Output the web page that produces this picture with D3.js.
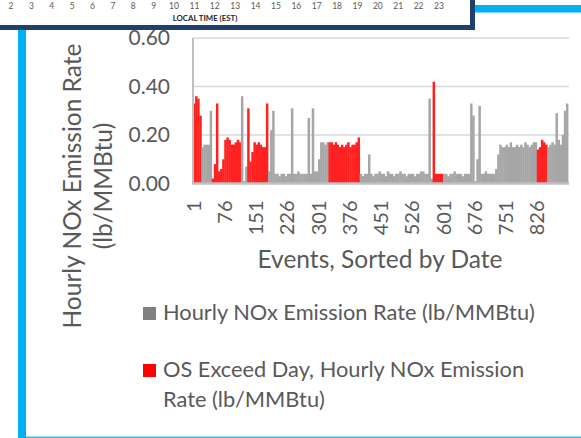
<!DOCTYPE html>
<meta charset="utf-8">
<style>
body { margin: 0; background: #fff; }
svg { display: block; font-family: Lato, "Open Sans", sans-serif; }
.tick line { display: none; }
</style>
<body>
<svg width="581" height="438"></svg>
</body>
<script src="https://cdn.jsdelivr.net/npm/d3@7"></script>
<script>

// each value covers 5 events (events 1-900)
var binSize = 5;
var rate = [
  0.33,0.36,0.35,0.28,0.15,0.16,0.16,0.16,0.30,0.02,
  0.08,0.33,0.05,0.06,0.10,0.18,0.19,0.18,0.16,0.16,
  0.17,0.18,0.17,0.36,0.01,0.07,0.31,0.09,0.13,0.17,
  0.16,0.17,0.16,0.15,0.15,0.33,0.05,0.22,0.30,0.04,
  0.04,0.03,0.04,0.04,0.03,0.04,0.04,0.31,0.04,0.04,
  0.05,0.04,0.04,0.04,0.04,0.27,0.04,0.31,0.05,0.05,
  0.10,0.17,0.17,0.16,0.17,0.17,0.17,0.16,0.17,0.16,
  0.15,0.16,0.15,0.16,0.17,0.15,0.16,0.16,0.17,0.19,
  0.04,0.03,0.04,0.04,0.12,0.04,0.03,0.04,0.04,0.05,
  0.04,0.04,0.03,0.05,0.04,0.04,0.03,0.04,0.04,0.05,
  0.04,0.04,0.03,0.04,0.04,0.04,0.03,0.04,0.04,0.05,
  0.05,0.04,0.04,0.35,0.02,0.42,0.04,0.04,0.04,0.04,
  0.04,0.04,0.03,0.04,0.04,0.05,0.04,0.04,0.04,0.03,
  0.04,0.04,0.04,0.33,0.28,0.01,0.10,0.32,0.04,0.04,
  0.05,0.04,0.04,0.04,0.04,0.06,0.12,0.16,0.15,0.15,
  0.16,0.15,0.17,0.15,0.15,0.16,0.15,0.16,0.15,0.17,
  0.16,0.15,0.16,0.17,0.17,0.14,0.15,0.18,0.17,0.16,
  0.15,0.16,0.17,0.16,0.29,0.18,0.16,0.20,0.30,0.33
];
// 1 = OS exceed day (red), 0 = other days
var exceed = [
  1,1,1,1,0,0,0,0,0,1,
  1,1,1,1,1,1,1,1,1,1,
  1,1,1,0,0,0,1,1,1,1,
  1,1,1,1,1,1,0,0,0,0,
  0,0,0,0,0,0,0,0,0,0,
  0,0,0,0,0,0,0,0,0,0,
  0,0,0,0,0,1,1,1,1,1,
  1,1,1,1,1,1,1,1,1,1,
  0,0,0,0,0,0,0,0,0,0,
  0,0,0,0,0,0,0,0,0,0,
  0,0,0,0,0,0,0,0,0,0,
  0,0,0,0,0,1,1,1,1,1,
  0,0,0,0,0,0,0,0,0,0,
  0,0,0,0,0,0,0,0,0,0,
  0,0,0,0,0,0,0,0,0,0,
  0,0,0,0,0,0,0,0,0,0,
  0,0,0,0,0,1,1,1,1,1,
  0,0,0,0,0,0,0,0,0,0
];
var eventTicks = [1,76,151,226,301,376,451,526,601,676,751,826];
var yTicks = [0, 0.2, 0.4, 0.6];
var hours = [2,3,4,5,6,7,8,9,10,11,12,13,14,15,16,17,18,19,20,21,22,23];
var legendItems = [
  {color: "#808080", lines: ["Hourly NOx Emission Rate (lb/MMBtu)"]},
  {color: "#ff0000", lines: ["OS Exceed Day, Hourly NOx Emission", "Rate (lb/MMBtu)"]}
];

var svg = d3.select("svg");
var textColor = "#595959";

// ---- slide decoration: bottom of the chart above, cyan frame ----
svg.append("rect").attr("x", 470).attr("y", 0).attr("width", 5).attr("height", 30).attr("fill", "#1f3f6f");
svg.append("rect").attr("x", 0).attr("y", 25).attr("width", 475).attr("height", 5).attr("fill", "#1f3f6f");
svg.append("rect").attr("x", 475).attr("y", 5).attr("width", 106).attr("height", 7.5).attr("fill", "#00b0f0");
svg.append("rect").attr("x", 18).attr("y", 30).attr("width", 8).attr("height", 408).attr("fill", "#00b0f0");
svg.append("rect").attr("x", 26).attr("y", 436.5).attr("width", 555).attr("height", 1.5).attr("fill", "#45b5e0");

var hx = d3.scaleLinear().domain([2, 23]).range([11, 439]);
svg.append("g").selectAll("text")
  .data(hours)
  .enter().append("text")
    .attr("x", function(d) { return hx(d); })
    .attr("y", 8.5)
    .attr("text-anchor", "middle")
    .attr("font-size", 8.5)
    .attr("fill", textColor)
    .text(function(d) { return d; });

svg.append("text")
    .attr("x", 205).attr("y", 20.5)
    .attr("text-anchor", "middle")
    .attr("font-size", 7.8)
    .attr("font-weight", "bold")
    .attr("fill", "#262626")
    .text("LOCAL TIME (EST)");

// ---- chart ----
var nEvents = rate.length * binSize;
var x = d3.scaleLinear().domain([0.5, nEvents + 0.5]).range([193, 568]);
var y = d3.scaleLinear().domain([0, 0.6]).range([183.5, 38]);

svg.append("g")
  .selectAll("line")
  .data(yTicks.filter(function(d) { return d > 0; }))
  .enter().append("line")
    .attr("x1", 193).attr("x2", 569)
    .attr("y1", function(d) { return y(d); })
    .attr("y2", function(d) { return y(d); })
    .attr("stroke", "#d9d9d9")
    .attr("stroke-width", 1.5);

// bars overlap a little so no white seams show between neighbours
svg.append("g")
  .selectAll("rect")
  .data(rate)
  .enter().append("rect")
    .attr("x", function(d, i) { return x(i * binSize + 0.5); })
    .attr("width", function(d, i) { return x((i + 1) * binSize + 0.5) - x(i * binSize + 0.5) + 0.4; })
    .attr("y", function(d) { return y(d); })
    .attr("height", function(d) { return y(0) - y(d); })
    .attr("fill", function(d, i) { return exceed[i] ? "#ff2020" : "#a6a6a6"; });

// axis lines
svg.append("line").attr("x1", 193).attr("x2", 193).attr("y1", 38).attr("y2", 184)
  .attr("stroke", "#bfbfbf").attr("stroke-width", 2);
svg.append("line").attr("x1", 192).attr("x2", 569).attr("y1", 183.5).attr("y2", 183.5)
  .attr("stroke", "#bfbfbf").attr("stroke-width", 2.5);

var yAxis = svg.append("g")
    .attr("transform", "translate(193,0)")
    .call(d3.axisLeft(y).tickValues(yTicks).tickSize(0).tickPadding(23)
      .tickFormat(d3.format(".2f")));
yAxis.select(".domain").remove();
yAxis.selectAll("text")
    .attr("font-size", 21)
    .attr("font-family", "Lato, sans-serif")
    .attr("fill", textColor);

var xAxis = svg.append("g")
    .attr("transform", "translate(0,183.5)")
    .call(d3.axisBottom(x).tickValues(eventTicks).tickSize(0));
xAxis.select(".domain").remove();
xAxis.selectAll("text")
    .attr("font-size", 20)
    .attr("font-family", "Lato, sans-serif")
    .attr("fill", textColor)
    .attr("text-anchor", "end")
    .attr("transform", "rotate(-90)")
    .attr("x", -17)
    .attr("y", 0)
    .attr("dy", "0.35em");

// titles
svg.append("text")
    .attr("transform", "translate(81,186) rotate(-90)")
    .attr("text-anchor", "middle")
    .attr("font-size", 24.5)
    .attr("fill", textColor)
    .text("Hourly NOx Emission Rate");
svg.append("text")
    .attr("transform", "translate(112,186) rotate(-90)")
    .attr("text-anchor", "middle")
    .attr("font-size", 24.5)
    .attr("fill", textColor)
    .text("(lb/MMBtu)");

svg.append("text")
    .attr("x", 380).attr("y", 268)
    .attr("text-anchor", "middle")
    .attr("font-size", 24.5)
    .attr("fill", textColor)
    .text("Events, Sorted by Date");

// legend
var legend = svg.append("g").selectAll("g")
  .data(legendItems)
  .enter().append("g")
    .attr("transform", function(d, i) { return "translate(143," + (i ? 377 : 320) + ")"; });

legend.append("rect")
    .attr("y", -13).attr("width", 13).attr("height", 13)
    .attr("fill", function(d) { return d.color; });

legend.each(function(d) {
  var t = d3.select(this).append("text")
      .attr("font-size", 21.8)
      .attr("fill", textColor);
  d.lines.forEach(function(line, j) {
    t.append("tspan").attr("x", 20).attr("y", j * 30).text(line);
  });
});

</script>
